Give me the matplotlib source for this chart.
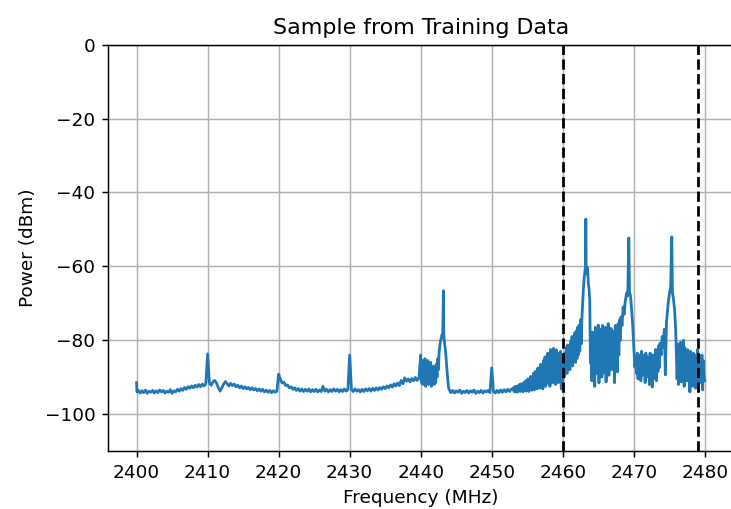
import matplotlib
matplotlib.use("Agg")
import matplotlib.pyplot as plt
import numpy as np

# noise floor, sampled every 0.25 MHz
floor_a_start = 2400.25
floor_a_power = [-93.6, -94.3, -93.7, -94.2, -93.5, -94.4, -93.8, -94.1, -93.6, -94.3,
                 -93.7, -94.2, -93.5, -94.0, -93.6, -94.3, -93.8, -94.1, -93.4, -94.4,
                 -93.7, -94.0, -93.3, -93.8, -93.1, -93.6, -92.8, -93.3, -92.6, -93.0,
                 -92.4, -92.9, -92.2, -92.7, -92.0, -92.6, -91.9, -92.4, -91.8]
floor_b_start = 2410.25
floor_b_power = [-91.6, -92.2, -91.3, -90.9, -91.6, -92.8, -93.8, -92.9, -91.9, -91.2,
                 -91.8, -92.4, -91.7, -92.3, -91.9, -92.6, -92.2, -92.9, -92.4, -93.1,
                 -92.6, -93.2, -92.8, -93.4, -92.9, -93.5, -93.1, -93.7, -93.2, -93.8,
                 -93.3, -94.0, -93.5, -94.1, -93.6, -94.2, -93.7, -94.1, -93.8]
floor_c_start = 2420.25
floor_c_power = [-90.6, -91.6, -91.4, -92.3, -92.1, -92.9, -92.6, -93.3, -92.9, -93.6,
                 -93.1, -93.8, -93.2, -93.9, -93.3, -93.8, -93.2, -94.0, -93.4, -93.9,
                 -93.3, -94.0, -93.5, -93.9, -92.5, -93.8, -93.3, -94.0, -93.4, -93.9,
                 -93.2, -93.8, -93.3, -94.0, -93.4, -93.9, -93.2, -93.8, -93.4]
floor_d_start = 2430.25
floor_d_power = [-93.3, -93.9, -93.2, -93.8, -93.4, -94.0, -93.3, -93.9, -93.2, -93.7,
                 -93.1, -93.8, -93.0, -93.6, -92.9, -93.5, -92.8, -93.3, -92.6, -93.1,
                 -92.4, -92.9, -92.1, -92.7, -91.8, -92.4, -91.6, -92.3, -90.9, -91.8,
                 -90.2, -91.1, -90.5, -91.3, -90.4, -91.0, -90.1, -90.9, -90.3]
floor_e_start = 2444.0
floor_e_power = [-93.3, -94.2, -93.6, -94.3, -93.7, -94.1, -93.5, -94.4, -93.8, -94.2,
                 -93.6, -94.3, -93.7, -94.1, -93.5, -94.4, -93.8, -94.2, -93.6, -94.3,
                 -93.7, -94.0, -93.6, -94.2]
floor_f_start = 2450.25
floor_f_power = [-93.9, -94.3, -93.6, -94.2, -93.5, -94.1, -93.4, -94.0, -93.3, -93.9, -93.2]

# narrow spurs
spur_freq = [2400.0, 2400.05, 2410.0, 2420.0, 2430.0, 2450.0]
spur_power = [-91.5, -94.0, -83.7, -89.2, -84.0, -87.5]

# busy bands, 0.1 MHz bins
busy_a_start = 2440.0
busy_a_power = [-84.0, -91.5, -85.5, -92.0, -87.0, -91.0, -85.0, -92.5, -88.0, -90.5,
                -85.5, -92.0, -87.5, -91.0, -86.0, -92.5, -88.5, -90.0, -87.0, -92.0,
                -88.0, -91.5, -86.5, -90.0, -85.0, -88.0, -83.0]
busy_b_start = 2453.0
busy_b_power = [-93.5, -92.8, -94.0, -92.5, -93.8, -92.6, -94.1, -92.3, -93.7, -92.0,
                -93.9, -91.8, -93.5, -92.2, -94.0, -91.5, -93.6, -91.2, -93.8, -90.8,
                -93.2, -90.5, -93.9, -91.0, -92.8, -89.8, -93.6, -90.2, -92.5, -89.0,
                -93.5, -88.5, -92.0, -89.5, -93.2, -87.5, -91.8, -88.0, -93.0, -86.5,
                -92.0, -87.0, -93.2, -85.5, -91.0, -84.5, -92.5, -86.0, -90.5, -83.5,
                -91.8, -84.0, -92.5, -82.5, -90.0, -85.0, -91.5, -82.2, -89.5, -84.5,
                -92.0, -82.6, -90.5, -83.5, -91.5, -84.8, -89.0, -83.0, -93.2, -84.0,
                -92.8, -85.0, -90.0, -83.5, -88.5, -82.0, -89.0, -81.3, -87.5, -82.5,
                -88.0, -80.5, -86.5, -79.0, -87.0, -81.0, -85.5, -78.0, -86.0, -77.5,
                -85.0, -76.5, -84.0, -75.9, -83.0, -74.5, -81.0, -74.0]
busy_c_start = 2464.0
busy_c_power = [-78.5, -91.0, -77.8, -88.5, -80.0, -92.5, -76.5, -89.0, -82.0, -87.5,
                -75.9, -91.6, -78.0, -86.0, -77.0, -90.0, -76.0, -88.9, -80.5, -86.5,
                -76.5, -91.3, -78.5, -85.0, -75.5, -89.5, -79.0, -87.5, -76.8, -88.0,
                -77.5, -87.5, -80.0, -91.5, -76.0, -86.5, -78.0, -88.6, -75.5, -84.0,
                -74.5, -80.0]
busy_d_start = 2470.3
busy_d_power = [-84.5, -89.0, -83.5, -90.5, -85.0, -88.0, -84.0, -91.0, -83.0, -89.5,
                -85.5, -88.5, -84.0, -91.5, -83.5, -90.0, -84.5, -88.0, -85.0, -92.0,
                -83.5, -89.5, -84.5, -92.7, -84.0, -90.5, -85.0, -89.0, -82.5, -91.0,
                -83.0, -88.5, -81.5, -87.5]
busy_e_start = 2476.1
busy_e_power = [-90.5, -81.0, -92.0, -84.0, -88.5, -80.5, -91.3, -83.5, -89.0, -80.0,
                -92.5, -82.0, -88.0, -83.0, -91.0, -82.6, -89.5, -84.5, -94.0, -83.0,
                -90.0, -84.5, -92.5, -83.5, -88.5, -85.0, -93.0, -84.0, -90.5, -82.5,
                -93.5, -84.0, -89.0, -85.0, -91.5, -84.0, -93.5, -85.5, -90.0, -91.0]

# carriers
peak_a_freq = [2442.7, 2442.8, 2442.9, 2443.0, 2443.1, 2443.2, 2443.25, 2443.35, 2443.5, 2443.7, 2443.9]
peak_a_power = [-81.5, -80.0, -79.5, -78.5, -79.0, -66.6, -78.5, -80.5, -83.0, -88.0, -92.6]
peak_b_freq = [2462.8, 2462.9, 2463.0, 2463.1, 2463.2, 2463.25, 2463.3, 2463.4, 2463.5, 2463.6,
               2463.7, 2463.8, 2463.9]
peak_b_power = [-70.0, -66.4, -63.5, -61.8, -60.0, -47.2, -60.0, -62.0, -60.4, -64.5,
                -66.0, -69.0, -86.2]
peak_c_freq = [2468.2, 2468.35, 2468.5, 2468.65, 2468.8, 2469.0, 2469.15, 2469.3, 2469.4, 2469.55,
               2469.7, 2469.85, 2470.05, 2470.15]
peak_c_power = [-73.7, -76.0, -71.0, -73.0, -69.5, -67.2, -68.0, -52.3, -66.9, -68.0,
                -71.8, -76.0, -83.5, -87.3]
peak_d_freq = [2473.7, 2473.85, 2474.0, 2474.15, 2474.3, 2474.45, 2474.6, 2474.75, 2474.9, 2475.05,
               2475.2, 2475.35, 2475.45, 2475.6, 2475.75, 2475.9, 2476.0]
peak_d_power = [-80.8, -84.0, -79.0, -82.0, -77.0, -89.4, -75.3, -72.0, -69.1, -67.0,
                -65.6, -52.0, -67.2, -69.0, -71.8, -77.0, -83.5]

band_edges = [2460, 2479]


def bins(start, vals, step):
    return list(start + step * np.arange(len(vals)))


freq = (bins(floor_a_start, floor_a_power, 0.25) + bins(floor_b_start, floor_b_power, 0.25)
        + bins(floor_c_start, floor_c_power, 0.25) + bins(floor_d_start, floor_d_power, 0.25)
        + bins(floor_e_start, floor_e_power, 0.25) + bins(floor_f_start, floor_f_power, 0.25)
        + spur_freq
        + bins(busy_a_start, busy_a_power, 0.1) + bins(busy_b_start, busy_b_power, 0.1)
        + bins(busy_c_start, busy_c_power, 0.1) + bins(busy_d_start, busy_d_power, 0.1)
        + bins(busy_e_start, busy_e_power, 0.1)
        + peak_a_freq + peak_b_freq + peak_c_freq + peak_d_freq)
power = (floor_a_power + floor_b_power + floor_c_power + floor_d_power + floor_e_power
         + floor_f_power + spur_power
         + busy_a_power + busy_b_power + busy_c_power + busy_d_power + busy_e_power
         + peak_a_power + peak_b_power + peak_c_power + peak_d_power)

freq = np.array(freq)
power = np.array(power)
order = np.argsort(freq, kind="stable")
freq = freq[order]
power = power[order]

fig = plt.figure(figsize=(731 / 133, 509 / 133), dpi=133)
ax = fig.add_subplot(111)
# right spine sits just past the image edge in the original
fig.subplots_adjust(left=0.148, right=1.003, top=0.912, bottom=0.114)

ax.plot(freq, power, linewidth=1.5)
for f in band_edges:
    ax.axvline(f, color='k', linestyle='--', linewidth=1.5)

ax.set_ylim(-110, 0)
ax.grid(True)
ax.set_title("Sample from Training Data")
ax.set_xlabel("Frequency (MHz)")
ax.set_ylabel("Power (dBm)")

fig.savefig("out.png", dpi=133)
